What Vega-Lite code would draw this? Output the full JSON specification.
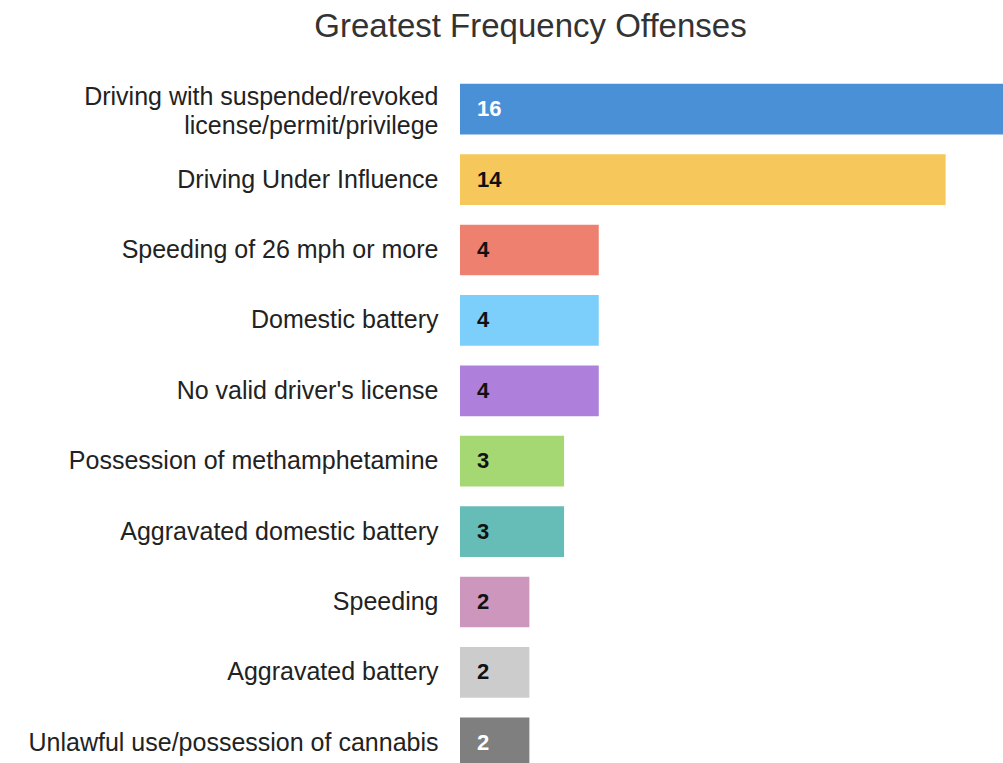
{
  "$schema": "https://vega.github.io/schema/vega-lite/v6.json",
  "autosize": "none",
  "padding": {"left": 460, "top": 74, "right": 0, "bottom": 0},
  "width": 543,
  "height": 689,
  "background": "white",
  "title": {
    "text": "Greatest Frequency Offenses",
    "font": "Liberation Sans",
    "fontSize": 33,
    "fontWeight": "normal",
    "color": "#333333",
    "anchor": "middle",
    "dx": -201,
    "offset": -3,
    "baseline": "bottom"
  },
  "data": {
    "values": [
      {"offense": "Driving with suspended/revoked license/permit/privilege", "count": 16},
      {"offense": "Driving Under Influence", "count": 14},
      {"offense": "Speeding of 26 mph or more", "count": 4},
      {"offense": "Domestic battery", "count": 4},
      {"offense": "No valid driver's license", "count": 4},
      {"offense": "Possession of methamphetamine", "count": 3},
      {"offense": "Aggravated domestic battery", "count": 3},
      {"offense": "Speeding", "count": 2},
      {"offense": "Aggravated battery", "count": 2},
      {"offense": "Unlawful use/possession of cannabis", "count": 2}
    ]
  },
  "encoding": {
    "y": {
      "field": "offense",
      "type": "nominal",
      "sort": null,
      "scale": {"range": [0, 704], "paddingInner": 0.28},
      "axis": {
        "title": null,
        "domain": false,
        "ticks": false,
        "labelPadding": 22,
        "labelFont": "Liberation Sans",
        "labelFontSize": 25,
        "labelColor": "#222222",
        "labelLimit": 500,
        "labelLineHeight": 29,
        "labelOffset": {"condition": {"test": "datum.value == 'Driving with suspended/revoked license/permit/privilege'", "value": -12}, "value": 0},
        "labelExpr": "datum.value == 'Driving with suspended/revoked license/permit/privilege' ? ['Driving with suspended/revoked', 'license/permit/privilege'] : datum.value"
      }
    }
  },
  "layer": [
    {
      "mark": {"type": "bar"},
      "encoding": {
        "x": {
          "field": "count",
          "type": "quantitative",
          "scale": {"domain": [0, 15.654], "nice": false},
          "axis": null
        },
        "color": {
          "field": "offense",
          "type": "nominal",
          "sort": null,
          "legend": null,
          "scale": {
            "range": ["#4a90d6", "#f6c75b", "#ee8070", "#7dcffb", "#ae7fdb", "#a5d872", "#66bdb8", "#cc96bd", "#cccccc", "#7f7f7f"]
          }
        }
      }
    },
    {
      "mark": {"type": "text", "align": "left", "baseline": "middle", "dx": 17, "font": "Liberation Sans", "fontSize": 22, "fontWeight": "bold"},
      "encoding": {
        "x": {"datum": 0, "type": "quantitative"},
        "text": {"field": "count", "type": "quantitative"},
        "color": {
          "condition": {"test": "datum.offense == 'Driving with suspended/revoked license/permit/privilege' || datum.offense == 'Unlawful use/possession of cannabis'", "value": "#ffffff"},
          "value": "#111111"
        }
      }
    }
  ],
  "config": {"view": {"stroke": null}}
}
